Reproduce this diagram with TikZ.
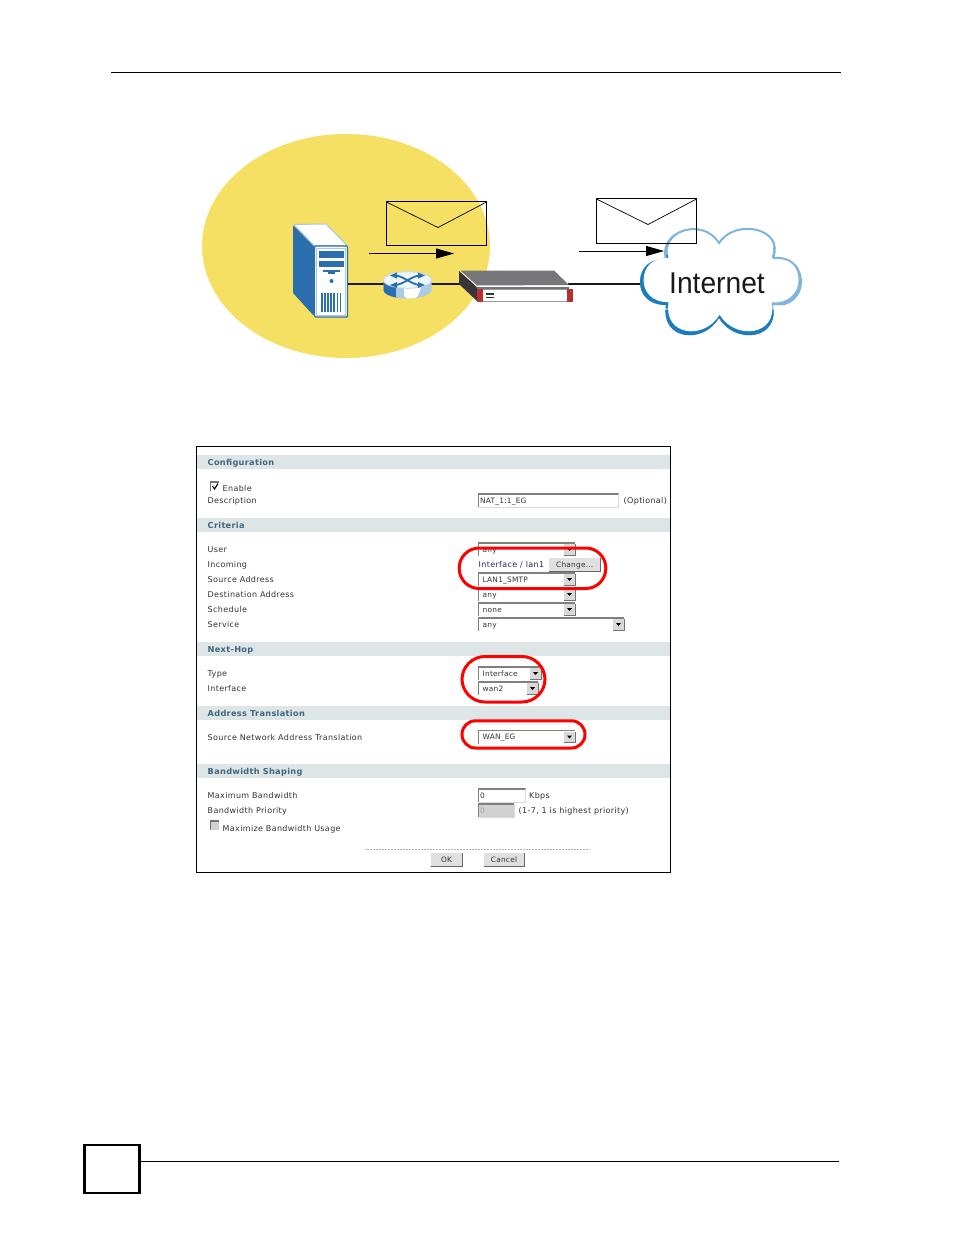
\documentclass[tikz,border=0pt]{standalone}
\usepackage{fontspec}
\setmainfont{DejaVu Sans}
\newfontfamily\netfont[FakeStretch=0.94]{Liberation Sans}
\newfontfamily\labfont[LetterSpace=4.4]{DejaVu Sans}
\newfontfamily\valfont[LetterSpace=3]{DejaVu Sans}
\newfontfamily\headfont[LetterSpace=3.8]{DejaVu Sans Bold}
\usetikzlibrary{arrows.meta}
\definecolor{blobY}{HTML}{F5E063}
\definecolor{bandC}{HTML}{DEE5E7}
\definecolor{headC}{HTML}{3F6680}
\definecolor{srvB}{HTML}{2A6EAD}
\definecolor{srvL}{HTML}{A9CBE3}
\definecolor{cldL}{HTML}{7FB5DB}
\definecolor{cldD}{HTML}{1B7DBD}
\definecolor{fwG}{HTML}{77777B}
\definecolor{fwD}{HTML}{38353A}
\definecolor{fwR}{HTML}{B5302F}
\definecolor{txt}{HTML}{333333}
\definecolor{navy}{HTML}{2A2A66}
\tikzset{
 x=1pt,y=-1pt,
 rulei/.style={draw=black,line width=1pt},
 band/.style={fill=bandC,draw=none},
 head/.style={anchor=base west,font=\headfont\fontsize{8.2}{9}\selectfont,text=headC,inner sep=0pt},
 lab/.style={anchor=base west,font=\labfont\fontsize{8}{9}\selectfont,text=txt,inner sep=0pt},
 val/.style={anchor=base west,font=\valfont\fontsize{7.4}{9}\selectfont,text=txt,inner sep=0pt},
 ring/.style={draw=red,line width=3pt},
 wire/.style={draw=black!90,line width=2pt},
 flow/.style={draw=black,line width=0.9pt,-{Triangle[length=18pt,width=10pt]}},
 env/.style={draw=black,line width=1pt},
}
\newcommand{\selbox}[4]{% x1,x2,y,label
  \fill[white] (#1,#3-6.5) rectangle (#2,#3+6.5);
  \draw[gray,line width=1.5pt] (#1,#3+6.5) -- (#1,#3-6.5) -- (#2,#3-6.5);
  \fill[black!15] (#2-11,#3-5.5) rectangle (#2,#3+5.5);
  \draw[black!55,line width=.9pt] (#2,#3-5.5) -- (#2,#3+5.5) -- (#2-11,#3+5.5);
  \fill[black] (#2-8,#3-1.5) -- (#2-3,#3-1.5) -- (#2-5.5,#3+1.5) -- cycle;
  \node[val] at (#1+4,#3+2.8) {#4};
}
\newcommand{\txtbox}[4]{%
  \fill[#4] (#1,#3-6.5) rectangle (#2,#3+6.5);
  \draw[gray,line width=1.5pt] (#1,#3+6.5) -- (#1,#3-6.5) -- (#2,#3-6.5);
  \draw[black!15,line width=.6pt] (#2,#3-6.5) -- (#2,#3+6.5) -- (#1,#3+6.5);
}
\newcommand{\btn}[4]{%
  \fill[black!12] (#1,#3-7) rectangle (#2,#3+7);
  \draw[black!60,line width=1.2pt] (#1,#3+7) -- (#2,#3+7) -- (#2,#3-7);
  \node[val,anchor=base] at ({(#1+#2)/2},#3+2.8) {#4};
}
\def\cloudpath{(666,259)
 .. controls (658,232) and (702,216) .. (719,243)
 .. controls (735,218) and (785,228) .. (773,258)
 .. controls (795,256) and (801,272) .. (801,282)
 .. controls (801,295) and (790,307) .. (773,305)
 .. controls (780,340) and (735,345) .. (719,318)
 .. controls (703,345) and (660,340) .. (666,305)
 .. controls (648,305) and (640,294) .. (640,282)
 .. controls (640,268) and (650,258) .. (666,259) -- cycle}
\def\routerbody{(383.5,280) -- (383.5,290)
 .. controls (383.5,295) and (395,298.5) .. (407.5,298.5)
 .. controls (420,298.5) and (431.5,295) .. (431.5,290)
 -- (431.5,280) -- cycle}
\begin{document}
\begin{tikzpicture}
\useasboundingbox (0,0) rectangle (954,1235);
\fill[white] (0,0) rectangle (954,1235);
% page furniture
\draw[rulei] (111,72) -- (841,72);
\draw[rulei] (140,1161.3) -- (839,1161.3);
\draw[draw=black,line width=2.2pt] (84.5,1145.2) rectangle (139.5,1193.2);

% network figure
\fill[blobY] (346,246) ellipse [x radius=144,y radius=112];

% server
\fill[srvB,rounded corners=1pt] (293,225) -- (314,246) -- (314,316) -- (293,293) -- cycle;
\fill[white,draw=srvL,line width=1pt,line join=round] (294,224.5) -- (326,224) -- (347,245.5) -- (314,245.5) -- cycle;
\fill[white,draw=srvB,line width=1.4pt,rounded corners=1pt] (314.5,246) -- (347.5,246) -- (347.5,317) -- (314.5,317) -- cycle;
\draw[srvL,line width=1pt] (316.5,248) rectangle (345.5,315);
\fill[srvB] (319,251) rectangle (343.5,257.5);
\fill[srvB] (319,261) rectangle (343.5,266.5);
\fill[srvB] (323,270) rectangle (340,271.5);
\fill[srvB] (328,271.5) rectangle (335,274);
\fill[srvB] (331.5,281) circle (2);
\foreach \i in {0,...,6}{\fill[srvB] ({321+\i*3.1},293) rectangle ++(1.7,19);}

% envelope 1
\draw[env] (386.5,201.5) rectangle (486.5,245.5);
\draw[line width=.7pt] (386.5,202) -- (438,227.5) -- (486.5,202);

% wires
\coordinate (wa) at (348,284);
\coordinate (wb) at (460,284);
\coordinate (wc) at (568,283.5);
\coordinate (wd) at (642,283.5);
\draw[wire] (wa) -- (wb);
\draw[wire] (wc) -- (wd);

% router
\fill[srvL] \routerbody;
\begin{scope}
\clip \routerbody;
\fill[srvB] (383,276) rectangle (399,300);
\fill[srvL] (396,276) -- (408,276) -- (404,300) -- (396,300) -- cycle;
\fill[white] (404,284) -- (422,284) -- (418,296) .. controls (414,300) and (407,300) .. (404,296) -- cycle;
\end{scope}
\fill[white!82!srvL,draw=srvL!70!white,line width=1pt] (407.5,280) ellipse [x radius=24,y radius=8.3];
\draw[srvB,line width=1.8pt] (395,275.5) .. controls (403,275.5) and (412,285) .. (420,285);
\draw[srvB,line width=1.8pt] (395,285) .. controls (403,285) and (412,275.5) .. (420,275.5);
\fill[srvB] (418,272.5) -- (425,275.5) -- (418,278.5) -- cycle;
\fill[srvB] (418,282) -- (425,285) -- (418,288) -- cycle;
\fill[srvB] (397,272.5) -- (390,275.5) -- (397,278.5) -- cycle;
\fill[srvB] (397,282) -- (390,285) -- (397,288) -- cycle;

% firewall
\fill[fwD] (459,271) -- (477,287) -- (477,301) -- (459,284) -- cycle;
\fill[white] (459,270) -- (478,288) -- (569,288) -- (569,285) -- (477,285) -- cycle;
\fill[fwG] (460.5,270.5) -- (554,270.5) -- (569,285) -- (477,285.5) -- cycle;
\fill[white,draw=black!40,line width=.8pt] (477,289) rectangle (572,301.5);
\fill[fwD!70] (477,286.5) rectangle (569,288.5);
\fill[fwR] (477,289) rectangle (483,302);
\fill[fwR] (567,289) rectangle (573,301.5);
\fill[fwD] (486,292.5) rectangle (494,294.5);
\fill[fwD] (486,296.5) rectangle (494,297.5);

% arrows
\coordinate (a1s) at (369,253.5);
\coordinate (a1e) at (454,253.5);
\coordinate (a2s) at (579,251);
\coordinate (a2e) at (664,251);
\draw[flow] (a1s) -- (a1e);

% cloud
\fill[cldL] \cloudpath;
\begin{scope}
\clip (630,255) rectangle (668,308) (655,310) rectangle (785,345);
\fill[cldD] \cloudpath;
\end{scope}
\begin{scope}[shift={(717.7,281.5)},scale=.962,shift={(-717,-283.5)}]
\fill[white] \cloudpath;
\end{scope}
\begin{scope}
\clip (660,220) rectangle (790,258) (773,250) rectangle (805,305);
\draw[cldL,line width=2pt] \cloudpath;
\end{scope}
\node[font=\netfont\fontsize{30}{32}\selectfont,text=black!90,inner sep=0pt] (inet) at (717,283) {Internet};

% envelope 2 and arrow, over the cloud
\draw[env] (596.5,198.5) rectangle (696.5,243.5);
\draw[line width=.7pt] (596.5,199) -- (648,224.5) -- (696.5,199);
\draw[flow] (a2s) -- (a2e);

% screenshot panel
\draw[draw=black,line width=1pt] (196.5,446.5) rectangle (670.5,872.5);
\fill[band] (197,455) rectangle (670,469);
\fill[band] (197,518) rectangle (670,532);
\fill[band] (197,642) rectangle (670,656);
\fill[band] (197,706) rectangle (670,720);
\fill[band] (197,764) rectangle (670,778);
\node[head] (h1) at (207.5,465.7) {Configuration};
\node[head] (h2) at (207.5,528.7) {Criteria};
\node[head] (h3) at (207.5,652.7) {Next-Hop};
\node[head] (h4) at (207.5,716.7) {Address Translation};
\node[head] (h5) at (207.5,774.7) {Bandwidth Shaping};

% checkboxes
\fill[white] (210.5,482) rectangle (219,490.5);
\draw[black!55,line width=1.2pt] (210.5,490.5) -- (210.5,482) -- (219,482);
\draw[black,line width=1.1pt] (212.5,486) -- (214.5,489) -- (218,483.5);
\fill[black!18] (210.5,821) rectangle (219,829.5);
\draw[black!55,line width=1.2pt] (210.5,829.5) -- (210.5,821) -- (219,821);

\node[lab] at (222.5,491.7) {Enable};
\node[lab] at (207.5,503.7) {Description};
\node[lab] at (207.5,552.7) {User};
\node[lab] at (207.5,567.7) {Incoming};
\node[lab] at (207.5,582.7) {Source Address};
\node[lab] at (207.5,597.7) {Destination Address};
\node[lab] at (207.5,612.7) {Schedule};
\node[lab] at (207.5,627.7) {Service};
\node[lab] at (207.5,676.7) {Type};
\node[lab] at (207.5,691.7) {Interface};
\node[lab] at (207.5,740.2) {Source Network Address Translation};
\node[lab] at (207.5,798.7) {Maximum Bandwidth};
\node[lab] at (207.5,813.7) {Bandwidth Priority};
\node[lab] at (222.5,831.2) {Maximize Bandwidth Usage};

\txtbox{478.5}{618.5}{500.5}{white}
\node[val] at (480,503.3) {NAT\_1:1\_EG};
\node[lab] at (623.5,503.7) {(Optional)};
\selbox{478.5}{575}{549.5}{any}
\node[lab,text=navy] at (478.5,567.7) {Interface / lan1};
\btn{549}{600.5}{564.5}{Change...}
\selbox{478.5}{575}{579.5}{LAN1\_SMTP}
\selbox{478.5}{575}{594.5}{any}
\selbox{478.5}{575}{609.5}{none}
\selbox{478.5}{624}{624.5}{any}
\selbox{478.5}{541}{673.5}{Interface}
\selbox{478.5}{538}{688.5}{wan2}
\selbox{478.5}{575}{737}{WAN\_EG}
\txtbox{478.5}{525.5}{795.5}{white}
\node[val] at (480,798.3) {0};
\txtbox{478.5}{514}{810.5}{black!18}
\node[val,text=black!35] at (480,813.3) {0};
\node[lab] at (529,798.7) {Kbps};
\node[lab] at (518.5,813.7) {(1-7, 1 is highest priority)};

\draw[black!30,line width=.5pt,densely dotted] (365,849) -- (590,849);
\btn{430.5}{462.5}{859.5}{OK}
\btn{483.5}{524.5}{859.5}{Cancel}

% red rings
\draw[ring,rounded corners=20pt] (459.2,548) rectangle (605.8,588.5);
\draw[ring,rounded corners=23pt] (462,656.5) rectangle (545,702);
\draw[ring,rounded corners=13.5pt] (462,720.8) rectangle (585,748);
\end{tikzpicture}
\end{document}
